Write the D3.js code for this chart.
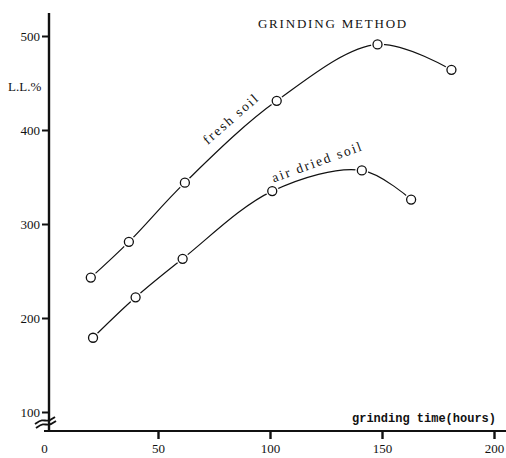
<!DOCTYPE html>
<html>
<head>
<meta charset="utf-8">
<script src="https://d3js.org/d3.v7.min.js"></script>
<style>
  body { margin: 0; background: #fff; }
  svg text { font-family: "Liberation Serif", "DejaVu Serif", serif; fill: #111; }
</style>
</head>
<body>
<div class="chart"></div>
<script>
// grinding time (hours) vs liquid limit
const xTicks = [0, 50, 100, 150, 200];
const yTicks = [100, 200, 300, 400, 500];

const freshHours = [20, 37, 62, 103, 148, 181];
const freshLL = [243, 281, 344, 431, 491, 464];

const airHours = [21, 40, 61, 101, 141, 163];
const airLL = [179, 222, 263, 335, 357, 326];

const width = 506, height = 458;

const svg = d3.select('.chart')
  .append('svg')
  .attr('width', width)
  .attr('height', height);

const xScale = d3.scaleLinear().domain([0, 200]).range([46, 494]);
const yScale = d3.scaleLinear().domain([100, 500]).range([412, 36]);

const axisX = 49;
const baseY = 431;

// y axis
svg.append('line')
  .attr('x1', axisX).attr('x2', axisX)
  .attr('y1', 13).attr('y2', baseY)
  .attr('stroke', '#111').attr('stroke-width', 2.4);

const yg = svg.append('g').attr('transform', `translate(${axisX},0)`)
  .call(d3.axisLeft(yScale).tickValues(yTicks).tickSize(7).tickPadding(2));
yg.select('.domain').remove();
yg.selectAll('.tick line').attr('stroke', '#111').attr('stroke-width', 2);
yg.selectAll('.tick text')
  .style('font-family', '"Liberation Serif", serif')
  .style('font-size', '13px').attr('fill', '#111');

// x axis
svg.append('line')
  .attr('x1', 44).attr('x2', width)
  .attr('y1', baseY).attr('y2', baseY)
  .attr('stroke', '#111').attr('stroke-width', 2);

const xg = svg.append('g').attr('transform', `translate(0,${baseY})`)
  .call(d3.axisBottom(xScale).tickValues(xTicks).tickSize(8).tickPadding(5));
xg.select('.domain').remove();
xg.selectAll('.tick line').attr('stroke', '#111').attr('stroke-width', 2.4)
  .filter(d => d === 0).remove();
xg.selectAll('.tick text')
  .style('font-family', '"Liberation Serif", serif')
  .style('font-size', '13px').attr('fill', '#111')
  .attr('x', d => d === 0 ? -2 : 0);

// axis break marks
const brk = d3.line().curve(d3.curveBasis);
[[[35, 424], [42, 419], [48, 422], [55, 417]], [[36, 428], [43, 423], [49, 426], [56, 421]]]
  .forEach(p => svg.append('path').attr('d', brk(p))
    .attr('fill', 'none').attr('stroke', '#111').attr('stroke-width', 1.8));

// curves
const line = d3.line()
  .x(d => xScale(d[0]))
  .y(d => yScale(d[1]))
  .curve(d3.curveCatmullRom.alpha(0.5));

const series = [
  { hours: freshHours, ll: freshLL },
  { hours: airHours, ll: airLL }
];

series.forEach(s => {
  const pts = s.hours.map((h, i) => [h, s.ll[i]]);
  svg.append('path')
    .attr('d', line(pts))
    .attr('fill', 'none').attr('stroke', '#111').attr('stroke-width', 1.2);
  svg.selectAll(null).data(pts).join('circle')
    .attr('cx', d => xScale(d[0])).attr('cy', d => yScale(d[1]))
    .attr('r', 6.5).attr('fill', '#fff');
  svg.selectAll(null).data(pts).join('circle')
    .attr('cx', d => xScale(d[0])).attr('cy', d => yScale(d[1]))
    .attr('r', 4.5).attr('fill', '#fff')
    .attr('stroke', '#111').attr('stroke-width', 1.3);
});

// labels
svg.append('text').text('GRINDING METHOD')
  .attr('x', 333).attr('y', 28).attr('text-anchor', 'middle')
  .style('font-size', '13px').style('letter-spacing', '1.8px');

svg.append('text').text('L.L.%')
  .attr('x', 8).attr('y', 91)
  .style('font-size', '13px');

svg.append('text').text('fresh soil')
  .attr('text-anchor', 'middle')
  .attr('transform', 'translate(234,122) rotate(-41)')
  .style('font-size', '13.5px').style('letter-spacing', '2px');

svg.append('text').text('air dried soil')
  .attr('text-anchor', 'middle')
  .attr('transform', 'translate(319,166) rotate(-20)')
  .style('font-size', '13.5px').style('letter-spacing', '2px');

svg.append('text').text('grinding time(hours)')
  .attr('x', 352).attr('y', 422)
  .style('font-family', '"Liberation Mono", monospace')
  .style('font-weight', 'bold').style('font-size', '12px');
</script>
</body>
</html>
